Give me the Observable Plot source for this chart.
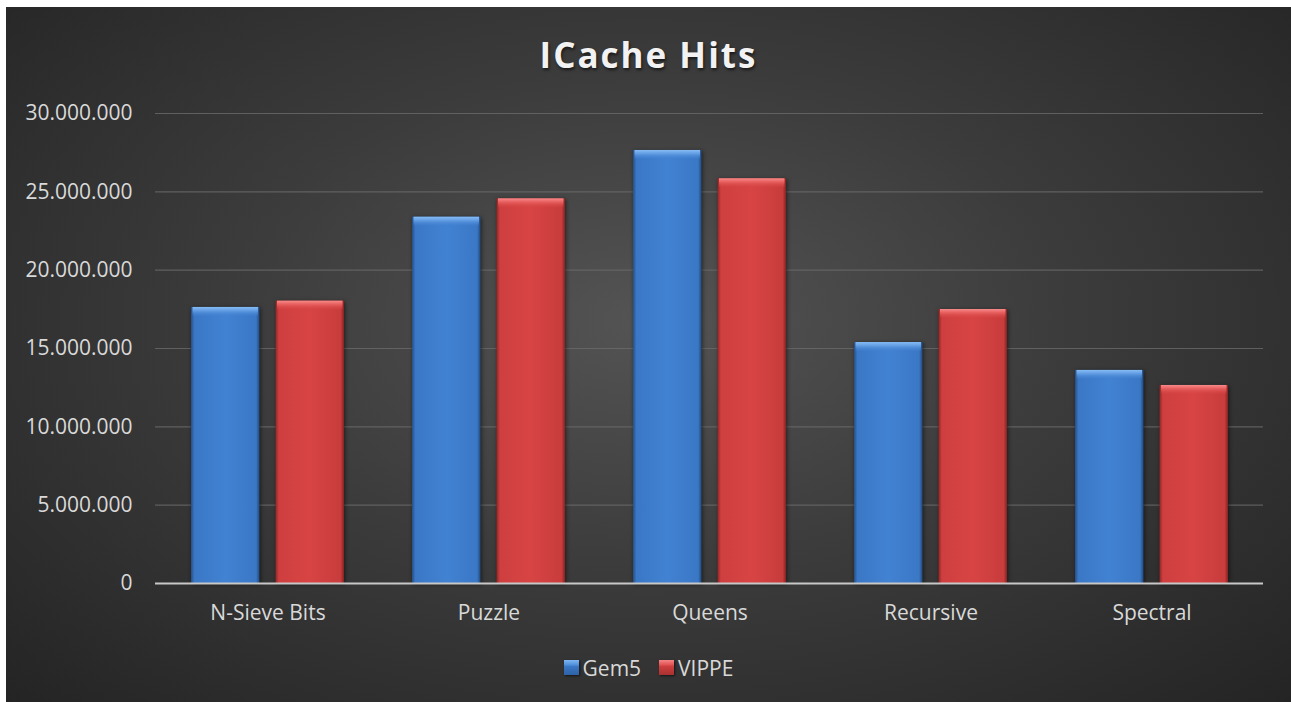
<!DOCTYPE html>
<html>
<head>
<meta charset="utf-8">
<script src="https://cdn.jsdelivr.net/npm/d3@7"></script>
<script src="https://cdn.jsdelivr.net/npm/@observablehq/plot@0.6"></script>
<style>
  html, body { margin: 0; padding: 0; background: #ffffff; }
  #frame {
    position: absolute; left: 6px; top: 7px; width: 1285px; height: 695px;
    background: radial-gradient(ellipse farthest-corner at 50% 45%, #545454 0%, #3c3c3c 45%, #242424 100%);
    font-family: "Open Sans", sans-serif; overflow: hidden;
  }
  #title {
    height: 80px; box-sizing: border-box; padding-top: 16px; line-height: 64px;
    text-align: center; color: #f2f2f2; font-size: 35px; font-weight: 700;
    letter-spacing: 2px; text-shadow: 1px 2px 3px rgba(0,0,0,0.6);
  }
  #legend {
    display: flex; justify-content: center; align-items: center; gap: 18px;
    height: 65px; box-sizing: border-box; padding-bottom: 4px;
    color: #d9d9d9; font-size: 21px;
  }
  .item { display: flex; align-items: center; gap: 4px; }
  .sw { width: 15px; height: 15px; box-shadow: 1px 1px 2px rgba(0,0,0,0.6); }
  svg g.body rect { filter: drop-shadow(1px 1px 2px rgba(0,0,0,0.55)); }
</style>
</head>
<body>
<div id="frame">
  <div id="title">ICache Hits</div>
  <div id="chart"></div>
  <div id="legend"></div>
</div>
<script>
const categories = ["N-Sieve Bits", "Puzzle", "Queens", "Recursive", "Spectral"];
const seriesNames = ["Gem5", "VIPPE"];
const gem5Values = [17620000, 23380000, 27640000, 15380000, 13600000];
const vippeValues = [18020000, 24550000, 25830000, 17490000, 12640000];
const yTicks = [0, 5000000, 10000000, 15000000, 20000000, 25000000, 30000000];

const gem5 = categories.map((c, i) => ({category: c, series: "Gem5", value: gem5Values[i]}));
const vippe = categories.map((c, i) => ({category: c, series: "VIPPE", value: vippeValues[i]}));

const locale = d3.formatLocale({decimal: ",", thousands: ".", grouping: [3], currency: ["", ""]});
const fmt = locale.format(",d");

const barW = 84.5; // inset within a 153px group band
const chart = Plot.plot({
  width: 1285,
  height: 550,
  marginTop: 26,
  marginBottom: 54,
  marginLeft: 149,
  marginRight: 28,
  style: {background: "transparent", color: "#d9d9d9", fontFamily: "Open Sans, sans-serif", fontSize: "21px"},
  x: {domain: categories, paddingInner: 0.3095, paddingOuter: 0.155, label: null, tickSize: 0, tickPadding: 22},
  y: {domain: [0, 30000000], ticks: yTicks, tickFormat: fmt, label: null, tickSize: 0, tickPadding: 23},
  marks: [
    Plot.gridY(yTicks, {stroke: "#6a6a6a", strokeOpacity: 0.8, strokeWidth: 1.2}),
    Plot.barY(gem5, {x: "category", y: "value", insetRight: barW, fill: "url(#gemBody)", className: "body"}),
    Plot.barY(vippe, {x: "category", y: "value", insetLeft: barW, fill: "url(#vipBody)", className: "body"}),
    Plot.barY(gem5, {x: "category", y1: "value", y2: "value", insetBottom: -9, insetRight: barW + 1.5, insetLeft: 1.5, fill: "url(#gemTop)"}),
    Plot.barY(vippe, {x: "category", y1: "value", y2: "value", insetBottom: -9, insetLeft: barW + 1.5, insetRight: 1.5, fill: "url(#vipTop)"}),
    Plot.ruleY([0], {stroke: "#c8c8c8", strokeWidth: 2})
  ]
});

const defs = `
<defs>
  <linearGradient id="gemBody" x1="0" x2="1" y1="0" y2="0">
    <stop offset="0" stop-color="#264f86"/>
    <stop offset="0.05" stop-color="#3a78c6"/>
    <stop offset="0.5" stop-color="#4282d2"/>
    <stop offset="0.95" stop-color="#3a78c6"/>
    <stop offset="1" stop-color="#22497d"/>
  </linearGradient>
  <linearGradient id="vipBody" x1="0" x2="1" y1="0" y2="0">
    <stop offset="0" stop-color="#8e2626"/>
    <stop offset="0.05" stop-color="#cf3f3f"/>
    <stop offset="0.5" stop-color="#d84444"/>
    <stop offset="0.95" stop-color="#c83c3c"/>
    <stop offset="1" stop-color="#862222"/>
  </linearGradient>
  <linearGradient id="gemTop" x1="0" x2="0" y1="0" y2="1">
    <stop offset="0" stop-color="#86bbf4"/>
    <stop offset="0.35" stop-color="#68a2e6"/>
    <stop offset="1" stop-color="#4282d2" stop-opacity="0.2"/>
  </linearGradient>
  <linearGradient id="vipTop" x1="0" x2="0" y1="0" y2="1">
    <stop offset="0" stop-color="#f78a8a"/>
    <stop offset="0.35" stop-color="#ea6464"/>
    <stop offset="1" stop-color="#d84444" stop-opacity="0.2"/>
  </linearGradient>
</defs>`;
chart.insertAdjacentHTML("afterbegin", defs);
document.getElementById("chart").appendChild(chart);

const swatchBg = {
  Gem5: "linear-gradient(#7fb6f2 0%, #4d8ed9 35%, #3a78c6 40%, #2e62a6 100%)",
  VIPPE: "linear-gradient(#f58585 0%, #de5050 35%, #cf3f3f 40%, #a83131 100%)"
};
const legend = document.getElementById("legend");
seriesNames.forEach(name => {
  const item = document.createElement("div");
  item.className = "item";
  const sw = document.createElement("div");
  sw.className = "sw";
  sw.style.background = swatchBg[name];
  const label = document.createElement("span");
  label.textContent = name;
  item.appendChild(sw);
  item.appendChild(label);
  legend.appendChild(item);
});
</script>
</body>
</html>
